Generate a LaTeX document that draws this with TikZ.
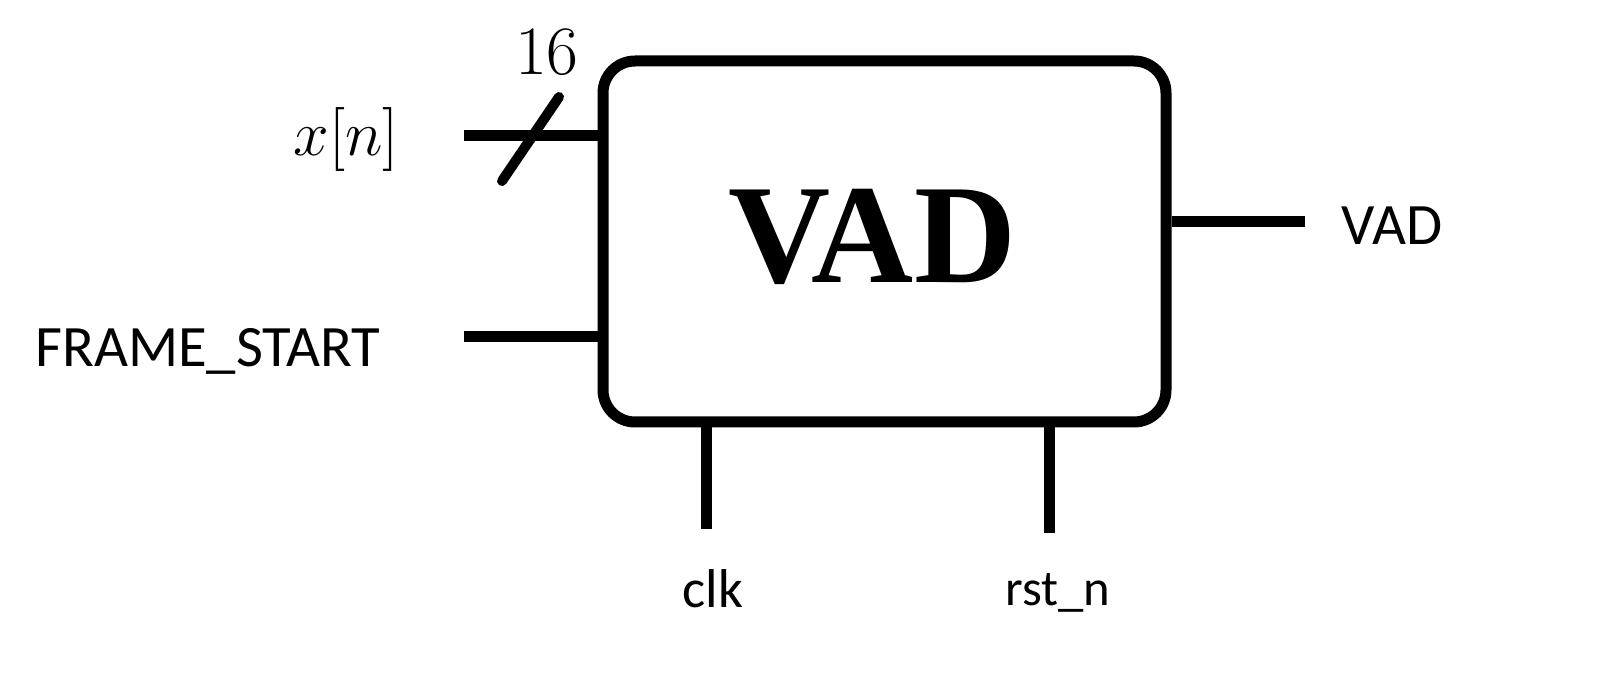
\RequirePackage{fix-cm}
\documentclass[tikz,border=0pt]{standalone}
\usepackage{fontspec}
\newfontfamily\labfont{Carlito}
\newfontfamily\vadfont{Liberation Serif}
\begin{document}
\begin{tikzpicture}[x=0.75pt,y=-0.75pt,
  wire/.style={line width=8.25pt},
  lab/.style={inner sep=0pt, anchor=base, font=\labfont\fontsize{44}{50}\selectfont},
  mathlab/.style={inner sep=0pt, font=\fontsize{48}{54}\selectfont},
]
\useasboundingbox (0,0) rectangle (1600,673);
\node[draw, line width=8.25pt, rounded corners=24pt, minimum width=422.25pt,
      minimum height=270.75pt, inner sep=0pt] (box) at (884.5,241.5) {};
\node[inner sep=0pt, font=\vadfont\bfseries\fontsize{106}{112}\selectfont] (vadtxt) at (872,237) {VAD};

\coordinate (xin) at (464,136);
\coordinate (fsin) at (464,337);
\coordinate (vadout) at (1305,222);
\coordinate (clkin) at (706,529);
\coordinate (rstin) at (1049,533);
\coordinate (s1) at (502,181);
\coordinate (s2) at (559,97);

\draw[wire] (xin) -- (xin -| box.west);
\draw[wire] (fsin) -- (fsin -| box.west);
\draw[wire] (box.east |- vadout) -- (vadout);
\draw[wire] (box.south -| clkin) -- (clkin);
\draw[wire] (box.south -| rstin) -- (rstin);
\draw[line width=7.5pt, line cap=round] (s1) -- (s2);

\node[mathlab, anchor=base] (xlab) at (346,156) {$x[n]$};
\node[mathlab, font=\fontsize{52}{58}\selectfont] (bits) at (547,52) {$16$};
\node[lab] (fslab) at (208,367) {FRAME\_START};
\node[lab] (vadlab) at (1392,245) {VAD};
\node[lab, font=\labfont\fontsize{41}{47}\selectfont] (clklab) at (713,607) {clk};
\node[lab, font=\labfont\fontsize{38}{44}\selectfont] (rstlab) at (1058,605) {rst\_n};
\end{tikzpicture}
\end{document}
